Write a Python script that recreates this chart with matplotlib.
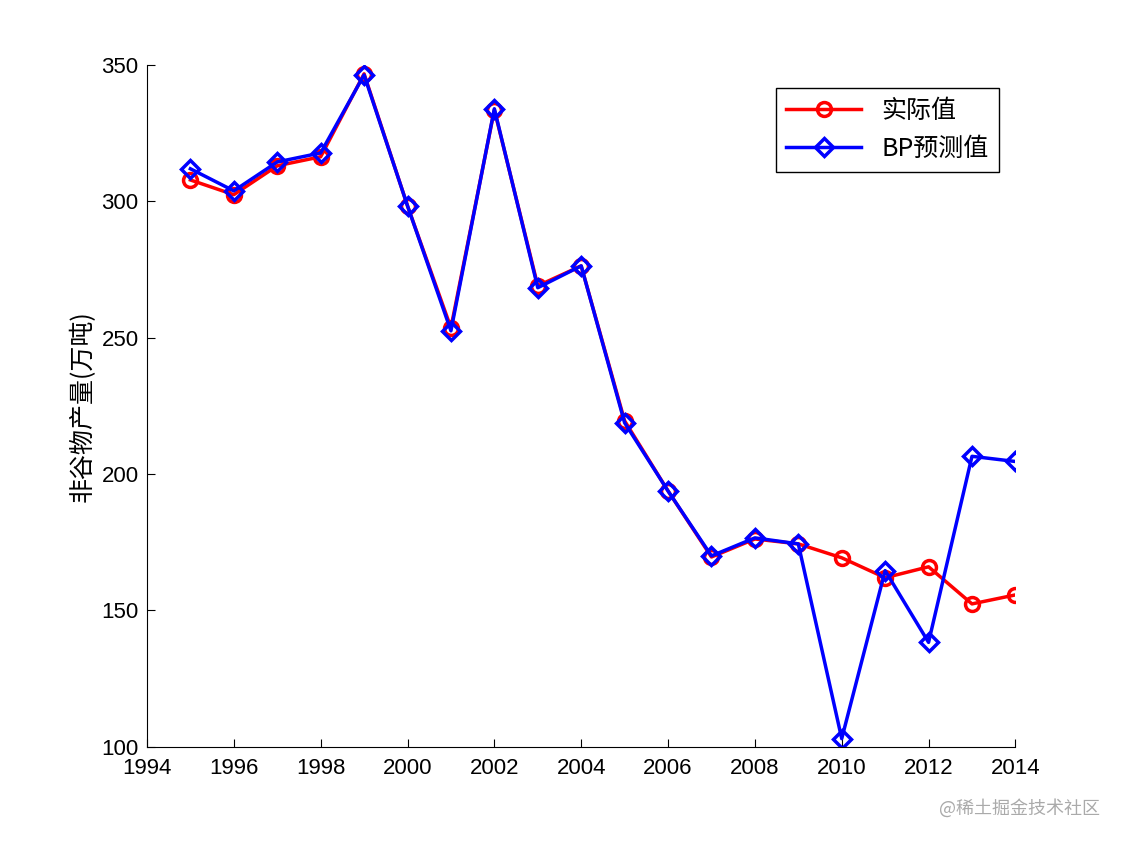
import matplotlib
matplotlib.use("Agg")
import matplotlib.pyplot as plt

plt.rcParams['font.family'] = ['Liberation Sans', 'Noto Sans CJK SC', 'DejaVu Sans']

years = list(range(1995, 2015))
actual = [307.8, 302.4, 313, 316.3, 346.7, 298.3, 253.6, 333.5, 269, 276.3,
          219.5, 193.8, 169.6, 176.2, 174.4, 169.3, 162, 166, 152.4, 155.7]
bp_pred = [311.9, 303.8, 314.4, 317.7, 346.3, 298.3, 252.5, 333.9, 268.3, 276.3,
           218.8, 193.8, 170, 176.6, 174.4, 103, 164.6, 138.3, 206.5, 204.6]
xticks = list(range(1994, 2016, 2))
yticks = [100, 150, 200, 250, 300, 350]

fig = plt.figure(figsize=(11.22, 8.42), dpi=100)
ax = fig.add_axes([0.131, 0.113, 0.774, 0.81])
ax.plot(years, actual, color='red', lw=2.5, marker='o', ms=10, mfc='none', mew=2.5, label='实际值')
ax.plot(years, bp_pred, color='blue', lw=2.5, marker='D', ms=9, mfc='none', mew=2.5, label='BP预测值')
ax.set_xlim(1994, 2014)
ax.set_ylim(100, 350)
ax.set_xticks(xticks)
ax.set_yticks(yticks)
ax.tick_params(direction='in', labelsize=16, length=6)
ax.tick_params(axis='x', pad=8)
ax.tick_params(axis='y', pad=6)
for s in ['top', 'right']:
    ax.spines[s].set_visible(False)
ax.set_ylabel('非谷物产量(万吨)', fontsize=18, family=['Noto Sans CJK SC', 'DejaVu Sans'])
leg = ax.legend(loc='upper right', bbox_to_anchor=(0.995, 0.985), fancybox=False,
                edgecolor='black', framealpha=1, handlelength=3,
                prop={'family': ['Noto Sans CJK SC', 'DejaVu Sans'], 'size': 18})
leg.get_frame().set_linewidth(1.0)
fig.text(0.98, 0.04, '@稀土掘金技术社区', ha='right', va='center', fontsize=13, color='#aaaaaa',
         family=['Noto Sans CJK SC', 'DejaVu Sans'])
fig.savefig('out.png', dpi=100)
